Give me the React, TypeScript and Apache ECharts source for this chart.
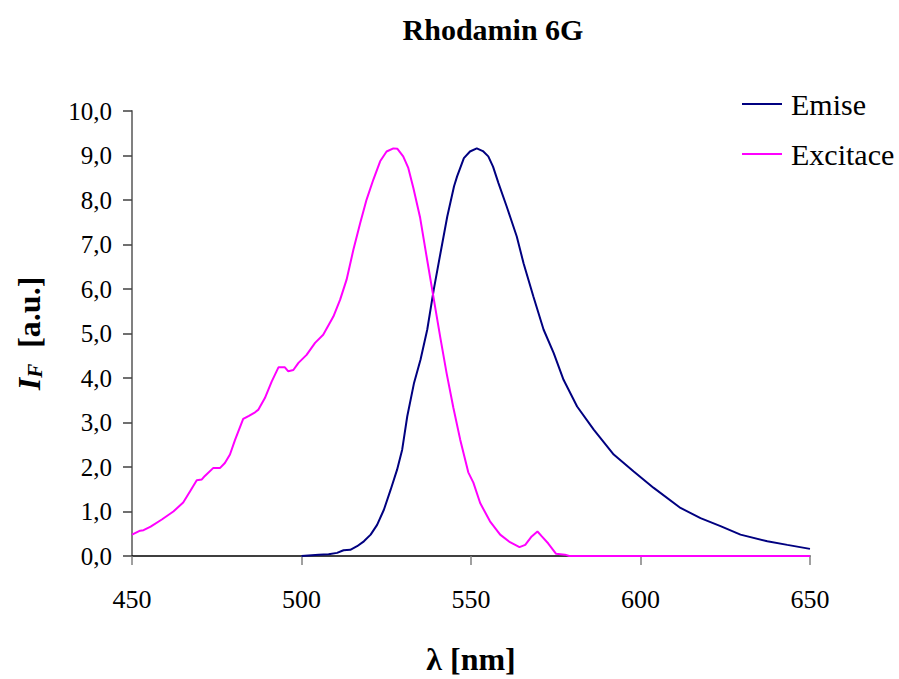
import React, { useEffect, useRef } from "react";
import * as echarts from "echarts";

const title = "Rhodamin 6G";
const seriesNames = ["Emise", "Excitace"];
const xTicks = { min: 450, max: 650, interval: 50 };
const yTicks = { min: 0, max: 10, interval: 1 };

const emissionNm = [500, 505.1, 508, 510.5, 512.4, 514.4, 516.4, 518.4, 520.4, 522.3, 524.3, 526.3, 528.2, 529.7, 531.2, 533.2, 535.1, 537.1, 539, 541, 543, 545, 545.9, 547.9, 549.7, 551.7, 553.5, 555.1, 556.5, 558.1, 560.5, 563.5, 565.5, 568.4, 571.4, 574.4, 577.3, 581.3, 586.2, 592.1, 598, 603.9, 611.8, 617.7, 623.6, 629.5, 637.4, 643.3, 650];
const emissionI = [0.0, 0.03, 0.04, 0.07, 0.13, 0.14, 0.22, 0.33, 0.48, 0.7, 1.04, 1.49, 1.94, 2.39, 3.14, 3.89, 4.41, 5.09, 5.98, 6.81, 7.63, 8.31, 8.53, 8.94, 9.09, 9.16, 9.1, 8.98, 8.75, 8.38, 7.86, 7.18, 6.58, 5.83, 5.09, 4.56, 3.96, 3.36, 2.84, 2.28, 1.9, 1.53, 1.08, 0.85, 0.67, 0.48, 0.33, 0.25, 0.16];

const excitationNm = [450, 452.4, 453.4, 455.5, 458.8, 462.2, 465.1, 467.1, 469.1, 470.6, 471.5, 474, 476, 477.4, 478.9, 480.4, 482.8, 484.5, 486.3, 487.3, 489.2, 491.2, 493.2, 495.1, 496.1, 497.6, 499.1, 501.5, 504, 506.4, 509.4, 511.4, 513.3, 515.3, 517.3, 519.2, 521.2, 523.2, 525.1, 527.1, 528.3, 530, 531.5, 533, 535, 536.9, 538.9, 540.9, 542.8, 544.8, 546.8, 549.2, 550.7, 552.7, 555.6, 558.6, 561.5, 564.3, 566, 567.9, 569.6, 570.9, 572.8, 575.1, 577.7, 579, 650];
const excitationI = [0.48, 0.57, 0.58, 0.66, 0.82, 1.0, 1.2, 1.45, 1.7, 1.72, 1.8, 1.98, 1.98, 2.09, 2.28, 2.61, 3.08, 3.15, 3.23, 3.29, 3.55, 3.92, 4.24, 4.24, 4.15, 4.18, 4.34, 4.52, 4.79, 4.97, 5.38, 5.76, 6.21, 6.88, 7.48, 8.01, 8.46, 8.87, 9.09, 9.16, 9.15, 8.98, 8.72, 8.27, 7.6, 6.73, 5.83, 4.93, 4.11, 3.33, 2.62, 1.88, 1.65, 1.19, 0.78, 0.48, 0.31, 0.2, 0.25, 0.44, 0.55, 0.44, 0.28, 0.05, 0.03, 0.0, 0.0];

const FONT = "'Liberation Serif', 'Times New Roman', serif";

export default function App() {
  const ref = useRef<HTMLDivElement>(null);
  useEffect(() => {
    document.body.style.margin = "0";
    const chart = echarts.init(ref.current!, null, { renderer: "svg" });
    const emission = emissionNm.map((x, i) => [x, emissionI[i]]);
    const excitation = excitationNm.map((x, i) => [x, excitationI[i]]);
    chart.setOption({
      animation: false,
      backgroundColor: "#ffffff",
      textStyle: { fontFamily: FONT },
      title: {
        text: title,
        left: 488,
        textAlign: "center",
        top: 9,
        textStyle: { fontFamily: FONT, fontSize: 30, fontWeight: "bold", color: "#000" },
      },
      legend: {
        orient: "vertical",
        left: 742,
        top: 88,
        padding: 0,
        itemWidth: 40,
        itemHeight: 2,
        itemGap: 18,
        icon: "rect",
        data: seriesNames,
        textStyle: { fontFamily: FONT, fontSize: 30, color: "#000", lineHeight: 32, padding: [0, 0, 0, 4] },
      },
      grid: { left: 132, right: 89, top: 111, bottom: 123, containLabel: false, outerBoundsMode: "none" },
      xAxis: {
        type: "value",
        min: xTicks.min,
        max: xTicks.max,
        interval: xTicks.interval,
        name: "λ [nm]",
        nameLocation: "middle",
        nameGap: 87,
        nameTextStyle: { fontFamily: FONT, fontSize: 32, fontWeight: "bold", color: "#000" },
        splitLine: { show: false },
        axisLine: { lineStyle: { color: "#000", width: 1.5 } },
        axisTick: { inside: false, length: 9, lineStyle: { color: "#808080", width: 1.5 } },
        axisLabel: { margin: 30, fontFamily: FONT, fontSize: 26, color: "#000" },
      },
      yAxis: {
        type: "value",
        min: yTicks.min,
        max: yTicks.max,
        interval: yTicks.interval,
        name: "{i|I}{f|F}{b|  [a.u.]}",
        nameLocation: "middle",
        nameGap: 87,
        nameRotate: 90,
        nameTextStyle: {
          fontFamily: FONT,
          fontSize: 32,
          color: "#000",
          rich: {
            i: { fontFamily: FONT, fontSize: 32, fontWeight: "bold", fontStyle: "italic", color: "#000" },
            f: { fontFamily: FONT, fontSize: 21, fontStyle: "italic", fontWeight: "bold", color: "#000", verticalAlign: "bottom", padding: [12, 0, 0, 0] },
            b: { fontFamily: FONT, fontSize: 32, fontWeight: "bold", color: "#000" },
          },
        },
        splitLine: { show: false },
        axisLine: { show: true, lineStyle: { color: "#808080", width: 2 } },
        axisTick: { show: true, inside: false, length: 9, lineStyle: { color: "#404040", width: 1.5 } },
        axisLabel: {
          margin: 20,
          fontFamily: FONT,
          fontSize: 25,
          color: "#000",
          formatter: (v: number) => v.toFixed(1).replace(".", ","),
        },
      },
      series: [
        {
          name: seriesNames[0],
          type: "line",
          data: emission,
          showSymbol: false,
          symbol: "none",
          lineStyle: { color: "#000080", width: 2 },
          itemStyle: { color: "#000080" },
        },
        {
          name: seriesNames[1],
          type: "line",
          data: excitation,
          showSymbol: false,
          symbol: "none",
          lineStyle: { color: "#FF00FF", width: 2 },
          itemStyle: { color: "#FF00FF" },
        },
      ],
    });
    return () => chart.dispose();
  }, []);
  return <div ref={ref} style={{ width: 899, height: 679 }} />;
}
